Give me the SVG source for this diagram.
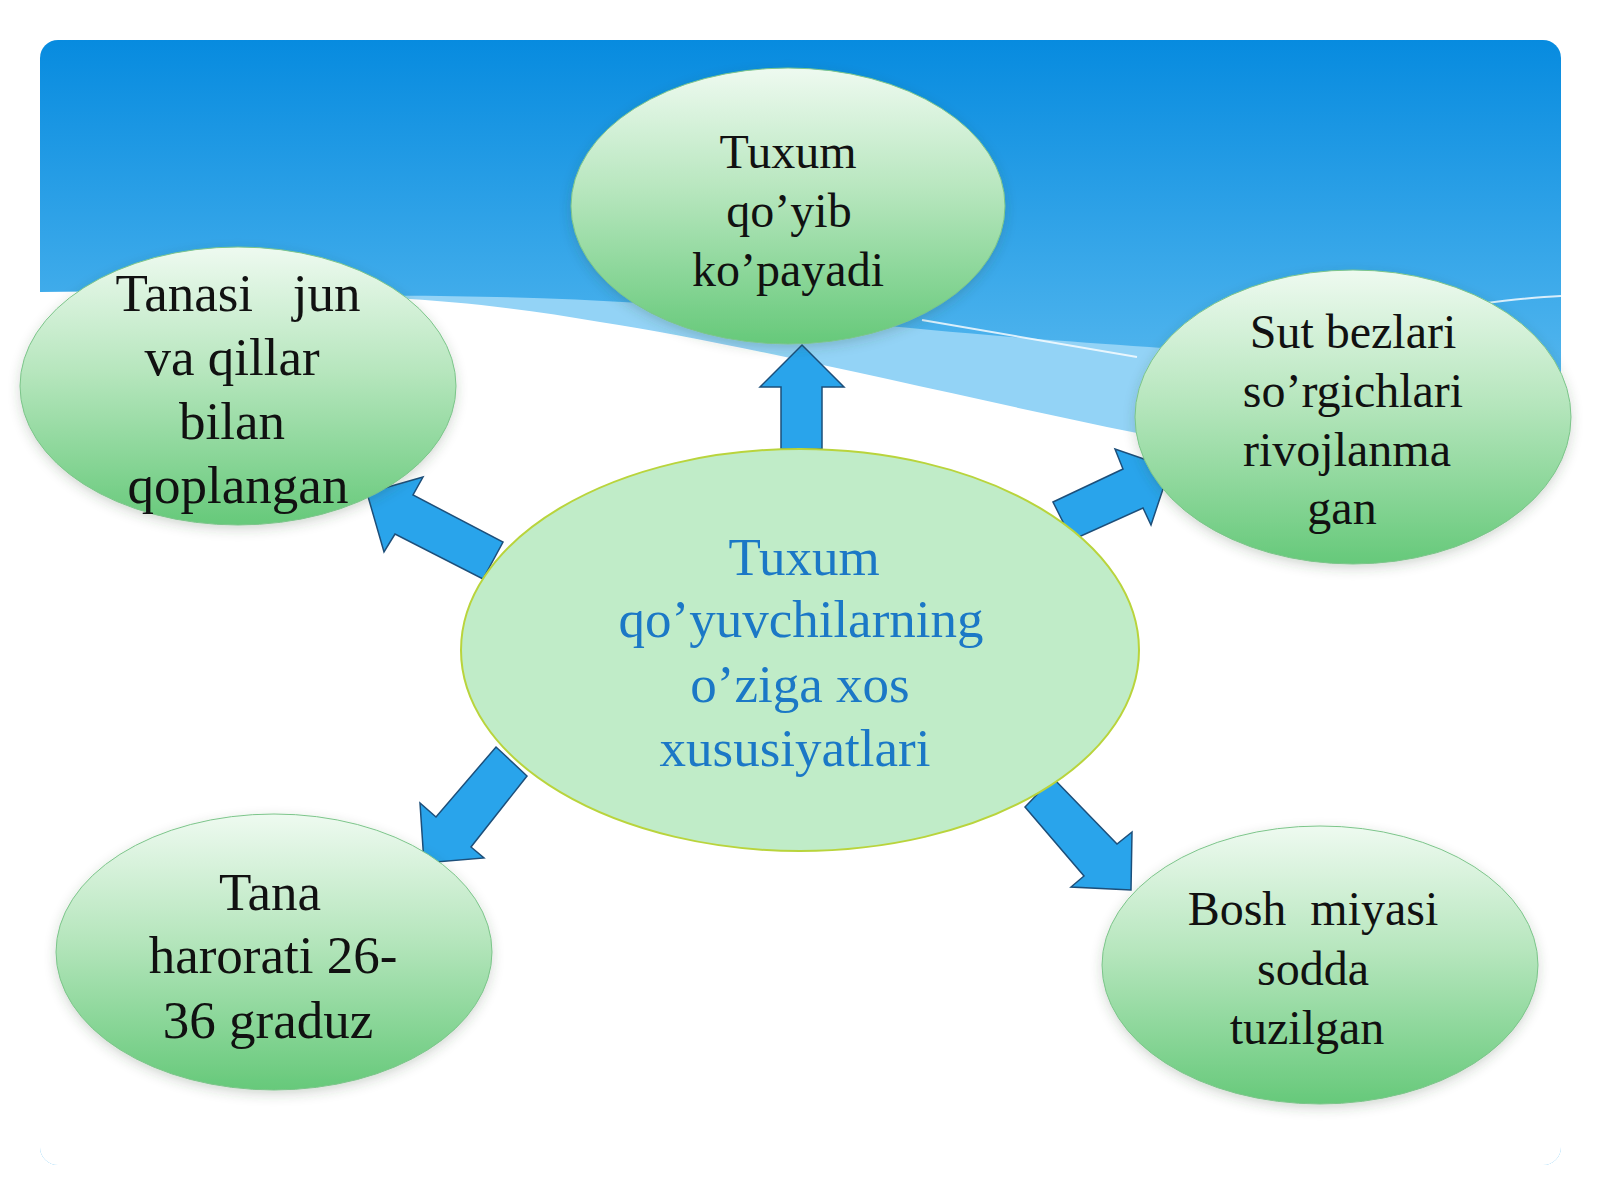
<svg xmlns="http://www.w3.org/2000/svg" width="1600" height="1200" viewBox="0 0 1600 1200">
  <defs>
    <linearGradient id="sky" gradientUnits="userSpaceOnUse" x1="0" y1="40" x2="0" y2="480">
      <stop offset="0" stop-color="#078bdf"/>
      <stop offset="0.6" stop-color="#42adeb"/>
      <stop offset="1" stop-color="#6cc2f1"/>
    </linearGradient>
    <linearGradient id="bubble" x1="0" y1="0" x2="0" y2="1">
      <stop offset="0" stop-color="#eefaf0"/>
      <stop offset="0.45" stop-color="#b6e6bd"/>
      <stop offset="1" stop-color="#66c97a"/>
    </linearGradient>
    <clipPath id="panel">
      <rect x="40" y="40" width="1521" height="1125" rx="18"/>
    </clipPath>
    <filter id="shadow" x="-20%" y="-20%" width="140%" height="150%">
      <feDropShadow dx="0" dy="4" stdDeviation="6" flood-color="#2f4f3a" flood-opacity="0.22"/>
    </filter>
  </defs>
  <style>
    .bubble { fill: url(#bubble); stroke: #7cc58a; stroke-width: 1; filter: url(#shadow); }
    .center { fill: #c0ecc8; stroke: #b9d43c; stroke-width: 2; }
    .t { font-family: "Liberation Serif", "Times New Roman", serif; fill: #111; text-anchor: middle; }
    .t48 { font-size: 48px; }
    .t53 { font-size: 53px; }
    .ct { font-family: "Liberation Serif", "Times New Roman", serif; fill: #1b78c6; font-size: 53px; text-anchor: middle; }
    .arrow { fill: #29a4eb; stroke: #1d4f7a; stroke-width: 1.5; stroke-linejoin: miter; }
  </style>

  <rect width="1600" height="1200" fill="#ffffff"/>
  <g id="background" clip-path="url(#panel)">
    <rect x="40" y="40" width="1521" height="1125" fill="url(#sky)"/>
    <path d="M300,297 C500,292 700,303 850,322 C1000,338 1200,352 1561,372 L1561,1165 L40,1165 L40,297 Z" fill="#93d3f6"/>
    <path d="M40,292 C300,290 450,295 600,322 C750,345 950,395 1137,433 C1300,458 1450,462 1561,455 L1561,1165 L40,1165 Z" fill="#ffffff"/>
    <path d="M922,320 C1000,333 1070,345 1137,357" fill="none" stroke="#ffffff" stroke-opacity="0.8" stroke-width="2"/>
    <path d="M1480,304 C1510,300 1535,297 1561,296" fill="none" stroke="#ffffff" stroke-opacity="0.8" stroke-width="2"/>
  </g>

  <g id="connectors">
    <polygon class="arrow" points="781,449 781,387 760,387 802,345 844,387 822,387 822,449"/>
    <polygon class="arrow" points="367,493 423,477 413,495 503,542 483,579 395,534 384,552"/>
    <polygon class="arrow" points="1053,502 1123,469 1115,449 1170,468 1151,525 1143,508 1072,540"/>
    <polygon class="arrow" points="496,747 527,776 471,847 484,858 424,863 420,803 436,817"/>
    <polygon class="arrow" points="1053,778 1117,844 1132,832 1131,890 1071,887 1084,876 1025,807"/>
  </g>

  <g id="node-top">
    <ellipse class="bubble" cx="788" cy="206" rx="217" ry="138"/>
    <text class="t t48" x="788" y="168">Tuxum</text>
    <text class="t t48" x="789" y="227">qo’yib</text>
    <text class="t t48" x="788" y="286">ko’payadi</text>
  </g>

  <g id="node-left">
    <ellipse class="bubble" cx="238" cy="386" rx="218" ry="139"/>
    <text class="t t53" x="238" y="311" xml:space="preserve">Tanasi   jun</text>
    <text class="t t53" x="232" y="375">va qillar</text>
    <text class="t t53" x="232" y="439">bilan</text>
    <text class="t t53" x="238" y="503">qoplangan</text>
  </g>

  <g id="node-right">
    <ellipse class="bubble" cx="1353" cy="417" rx="218" ry="147"/>
    <text class="t t48" x="1353" y="348">Sut bezlari</text>
    <text class="t t48" x="1353" y="407">so’rgichlari</text>
    <text class="t t48" x="1347" y="466">rivojlanma</text>
    <text class="t t48" x="1342" y="524">gan</text>
  </g>

  <g id="node-bottom-left">
    <ellipse class="bubble" cx="274" cy="952" rx="218" ry="138"/>
    <text class="t t53" x="270" y="910">Tana</text>
    <text class="t t53" x="273" y="973">harorati 26-</text>
    <text class="t t53" x="268" y="1038">36 graduz</text>
  </g>

  <g id="node-bottom-right">
    <ellipse class="bubble" cx="1320" cy="965" rx="218" ry="139"/>
    <text class="t t48" x="1313" y="925" xml:space="preserve">Bosh  miyasi</text>
    <text class="t t48" x="1313" y="985">sodda</text>
    <text class="t t48" x="1307" y="1044">tuzilgan</text>
  </g>

  <g id="node-center">
    <ellipse class="center" cx="800" cy="650" rx="339" ry="201"/>
    <text class="ct" x="804" y="575">Tuxum</text>
    <text class="ct" x="801" y="637">qo’yuvchilarning</text>
    <text class="ct" x="800" y="702">o’ziga xos</text>
    <text class="ct" x="795" y="766">xususiyatlari</text>
  </g>
</svg>
